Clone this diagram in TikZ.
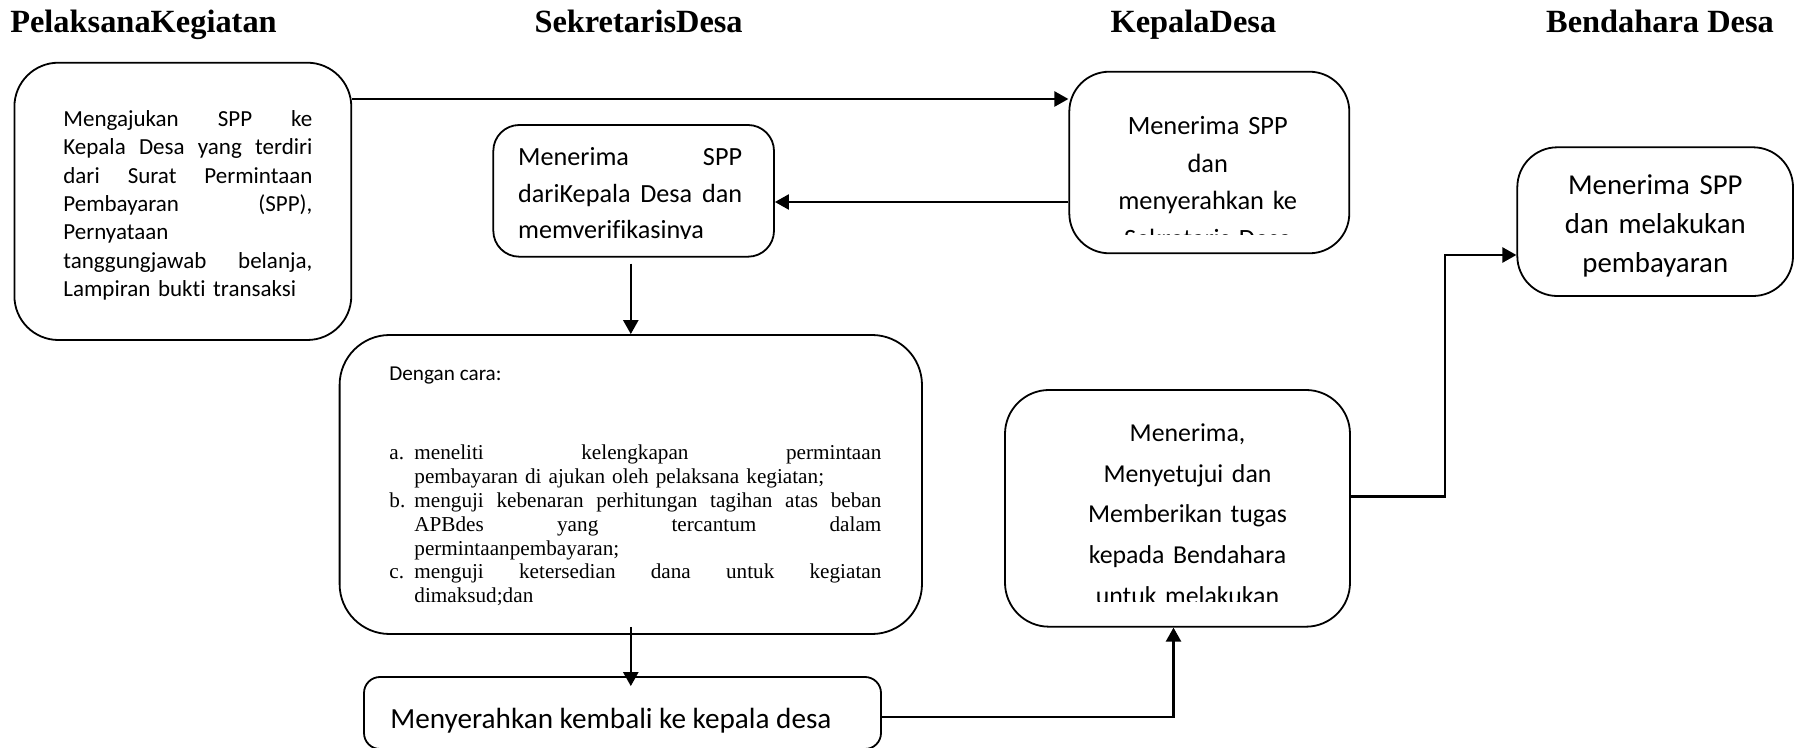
\documentclass[tikz,border=0pt]{standalone}
\usepackage{fontspec}
\setmainfont{Carlito}[Ligatures=NoCommon]
\newfontfamily\tnr{Liberation Serif}
\usetikzlibrary{arrows.meta}

\tikzset{
  card/.style={draw, line width=0.9pt, rounded corners=#1, inner sep=0pt},
  card/.default=20pt,
  txt/.style={inner sep=0pt, anchor=base west},
  head/.style={inner sep=0pt, anchor=base, font=\tnr\bfseries\fontsize{16.2}{19}\selectfont},
  flow/.style={line width=1.2pt, -{Triangle[length=7pt,width=7.5pt]}},
}

\begin{document}
\begin{tikzpicture}[x=0.5pt, y=-0.5pt]
  \useasboundingbox (0,0) rectangle (1795,748);
  %--- Column headers ---
  \node[head] (hP) at (143.5,33) {PelaksanaKegiatan};
  \node[head] (hS) at (638.6,33) {SekretarisDesa};
  \node[head] (hK) at (1193.4,33) {KepalaDesa};
  \node[head] (hB) at (1660,33) {Bendahara Desa};

  %--- Boxes ---
  \node[card=22pt, minimum width=168.45pt, minimum height=138.65pt] (A) at (182.85,201.35) {};
  \node[card=13pt, minimum width=140.35pt, minimum height=65.85pt] (B) at (633.65,190.85) {};
  \node[card=20pt, minimum width=140pt, minimum height=90.8pt] (C) at (1209.3,162.5) {};
  \node[card=20pt, minimum width=137.85pt, minimum height=74.35pt] (D) at (1655.15,221.65) {};
  \node[card=25pt, minimum width=291.2pt, minimum height=149.5pt] (E) at (630.8,484.5) {};
  \node[card=8pt, minimum width=258.5pt, minimum height=36pt] (F) at (622.5,713) {};
  \node[card=22pt, minimum width=172.5pt, minimum height=118.35pt] (G) at (1177.5,508.35) {};

  %--- Texts ---
  % pelaksana
  \node[txt, text width=124.5pt, align=left, font=\fontsize{11.5}{14.15}\selectfont] (tA) at (63,126.7)
    {Mengajukan\hfill SPP\hfill ke\\
     Kepala\hfill Desa\hfill yang\hfill terdiri\\
     dari\hfill Surat\hfill Permintaan\\
     Pembayaran\hfill (SPP),\\
     Pernyataan\\
     tanggungjawab\hfill belanja,\\
     Lampiran bukti transaksi};
  % sekretaris (text cut by its box)
  \begin{scope}
    \clip (493.3,125) rectangle (774,238.5);
    \node[txt, text width=112pt, align=left, font=\fontsize{13.1}{18.3}\selectfont] (tB) at (517.7,165.7)
      {Menerima\hfill SPP\\
       dariKepala\hfill Desa\hfill dan\\
       memverifikasinya};
  \end{scope}
  % kepala desa (text cut by its box)
  \begin{scope}
    \clip (1069.3,71.7) rectangle (1349.3,234.3);
    \node[txt, anchor=base, text width=140pt, align=center, font=\fontsize{13.2}{18.75}\selectfont] (tC) at (1207.7,135)
      {Menerima SPP\\dan\\menyerahkan ke\\Sekretaris Desa};
  \end{scope}
  % bendahara
  \node[txt, anchor=base, text width=137pt, align=center, font=\fontsize{14.4}{19.3}\selectfont] (tD) at (1655.3,195)
    {Menerima SPP\\dan melakukan\\pembayaran};
  % verifikasi
  \node[txt, font=\fontsize{10.6}{12}\selectfont] (tE0) at (389,381) {Dengan cara:};
  \node[txt, text width=246pt, align=left, font=\tnr\fontsize{10.6}{11.9}\selectfont] (tE) at (389,460)
    {\makebox[12.5pt][l]{a.}meneliti\hfill kelengkapan\hfill permintaan\hspace*{40pt}\\
     \hspace*{12.5pt}pembayaran di ajukan oleh pelaksana kegiatan;\\
     \makebox[12.5pt][l]{b.}menguji\hfill kebenaran\hfill perhitungan\hfill tagihan\hfill atas\hfill beban\\
     \hspace*{12.5pt}APBdes\hfill yang\hfill tercantum\hfill dalam\\
     \hspace*{12.5pt}permintaanpembayaran;\\
     \makebox[12.5pt][l]{c.}menguji\hfill ketersedian\hfill dana\hfill untuk\hfill kegiatan\\
     \hspace*{12.5pt}dimaksud;dan};
  \node[txt, font=\fontsize{14.6}{17}\selectfont] (tF) at (390,728) {Menyerahkan kembali ke kepala desa};
  % kepala desa, persetujuan (text cut by its box)
  \begin{scope}
    \clip (1005,390) rectangle (1350,602);
    \node[txt, anchor=base, text width=172pt, align=center, font=\fontsize{12.9}{20.3}\selectfont] (tG) at (1187.5,441.7)
      {Menerima,\\Menyetujui dan\\Memberikan tugas\\kepada Bendahara\\untuk melakukan};
  \end{scope}

  %--- Connectors ---
  \coordinate (yAC) at (0,99);
  \coordinate (yCB) at (0,202);
  \coordinate (kD) at (1445,255);
  \draw[flow] (A.east |- yAC) -- (C.west |- yAC);
  \draw[flow] (C.west |- yCB) -- (B.east |- yCB);
  \draw[flow, shorten <=3pt] (E.north |- B.south) -- (E.north);
  \draw[flow, shorten <=-4pt, shorten >=-5pt] (E.south) -- (E.south |- F.north);
  \draw[flow] ([yshift=-2pt]F.east) -| ([xshift=-2pt]G.south);
  \draw[flow] ([yshift=6pt]G.east) -| (kD) -- (D.west |- kD);
\end{tikzpicture}
\end{document}
